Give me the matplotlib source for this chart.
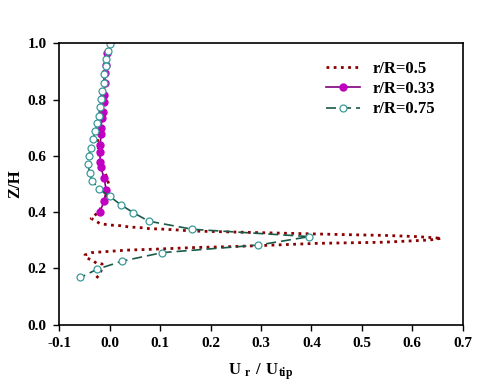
import numpy as np
import matplotlib
matplotlib.use("Agg")
import matplotlib.pyplot as plt

# r/R = 0.5 (dotted, dense)
u_05 = [-0.007, -0.011, -0.016, -0.024, -0.021, -0.008, -0.001, -0.010, -0.022,
        -0.037, -0.019, 0.000, 0.020, 0.040, 0.060, 0.080, 0.100, 0.140, 0.160,
        0.298, 0.443, 0.550, 0.609, 0.658, 0.635, 0.543, 0.410, 0.298, 0.232,
        0.166, 0.100, 0.034, -0.013, -0.036, -0.049, -0.048, -0.035, -0.026,
        -0.015, -0.016, -0.019, -0.027]
z_05 = [0.940, 0.850, 0.750, 0.659, 0.597, 0.534, 0.495, 0.440, 0.400,
        0.378, 0.359, 0.354, 0.352, 0.347, 0.345, 0.341, 0.340, 0.336, 0.333,
        0.327, 0.321, 0.317, 0.313, 0.307, 0.301, 0.293, 0.289, 0.281, 0.277,
        0.274, 0.269, 0.265, 0.259, 0.256, 0.248, 0.238, 0.230, 0.218,
        0.216, 0.200, 0.180, 0.165]

# r/R = 0.33
u_033 = [-0.006, -0.008, -0.009, -0.010, -0.011, -0.012, -0.014, -0.015, -0.018,
         -0.017, -0.019, -0.019, -0.019, -0.018, -0.011, -0.007, -0.011, -0.020]
z_033 = [0.964, 0.923, 0.893, 0.858, 0.816, 0.792, 0.757, 0.733, 0.698,
         0.678, 0.639, 0.615, 0.579, 0.562, 0.520, 0.479, 0.438, 0.400]

# r/R = 0.75
u_075 = [0.000, -0.003, -0.007, -0.008, -0.011, -0.012, -0.015, -0.017, -0.019,
         -0.022, -0.025, -0.029, -0.033, -0.037, -0.042, -0.043, -0.040, -0.035,
         -0.022, 0.000, 0.022, 0.047, 0.077, 0.164, 0.396, 0.295, 0.104, 0.025,
         -0.025, -0.058]
z_075 = [0.997, 0.974, 0.944, 0.919, 0.890, 0.860, 0.830, 0.801, 0.773,
         0.743, 0.716, 0.688, 0.659, 0.629, 0.600, 0.570, 0.540, 0.512,
         0.483, 0.456, 0.426, 0.398, 0.368, 0.339, 0.313, 0.283, 0.256, 0.226,
         0.197, 0.168]

plt.rcParams['font.family'] = 'Liberation Serif'
plt.rcParams['font.weight'] = 'bold'
plt.rcParams['mathtext.fontset'] = 'custom'
plt.rcParams['mathtext.rm'] = 'Liberation Serif:bold'
plt.rcParams['mathtext.bf'] = 'Liberation Serif:bold'

fig = plt.figure(figsize=(4.8, 3.86), dpi=100)
ax = fig.add_axes([0.1235, 0.1588, 0.8405, 0.7292])

ax.plot(u_05, z_05, ls=(0, (1, 1.6)), lw=2.0, c='#8b0000', label='r/R=0.5')
ax.plot(u_033, z_033, '-', lw=1.2, c='#800080', marker='o', ms=5,
        mfc='#c000c0', mec='#c000c0', label='r/R=0.33')
ax.plot(u_075, z_075, ls=(0, (6, 3)), lw=1.2, c='#1a5a48', marker='o', ms=5,
        mfc='white', mec='#3a9a9a', mew=0.9, label='r/R=0.75')

ax.set_xlim(-0.1, 0.7)
ax.set_ylim(0.0, 1.0)
ax.set_xticks(np.arange(-0.1, 0.71, 0.1))
ax.set_yticks(np.arange(0.0, 1.01, 0.2))
ax.set_xticklabels(['-0.1', '0.0', '0.1', '0.2', '0.3', '0.4', '0.5', '0.6', '0.7'])
ax.set_yticklabels(['0.0', '0.2', '0.4', '0.6', '0.8', '1.0'])
ax.tick_params(direction='out', length=4, width=1, labelsize=11, pad=5)
for s in ax.spines.values():
    s.set_linewidth(1.2)

ax.set_xlabel(r'$\mathrm{U_{\ r}\ /\ U_{tip}}$', fontsize=12, labelpad=8)
ax.set_ylabel('Z/H', fontsize=12, fontweight='bold', labelpad=3)

ax.legend(loc='upper right', bbox_to_anchor=(0.97, 0.99), frameon=False,
          fontsize=12, handlelength=2.0, handletextpad=0.8, labelspacing=0.25)

plt.savefig('out.png', dpi=100)
